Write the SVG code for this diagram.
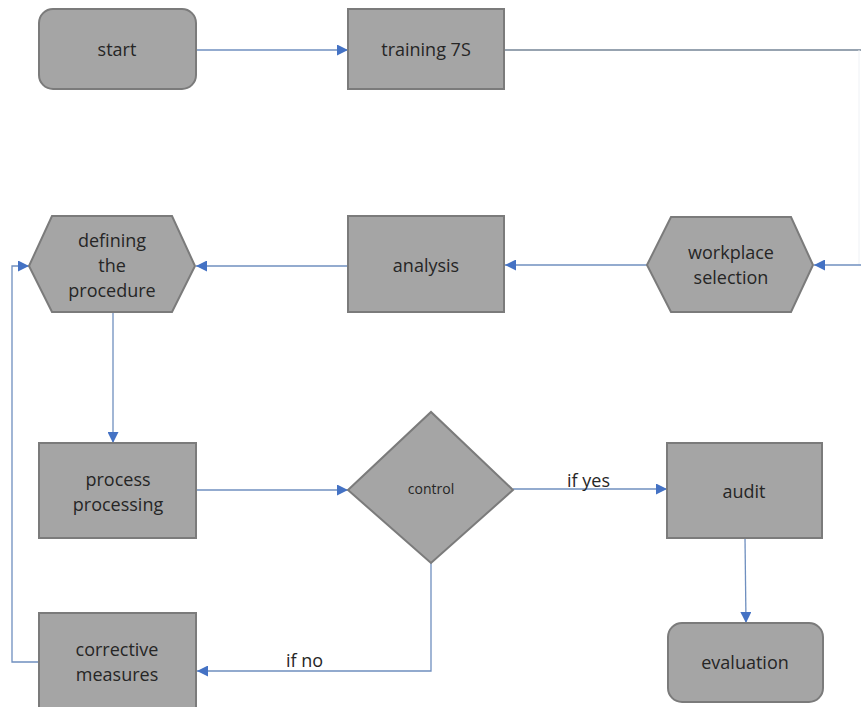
<svg xmlns="http://www.w3.org/2000/svg" width="861" height="707" viewBox="0 0 861 707">
<style>
.n{fill:#a5a5a5;stroke:#7b7b7b;stroke-width:2}
.t{font-family:"Open Sans","Liberation Sans",sans-serif;font-size:18px;fill:#262626;text-anchor:middle}
.c{fill:none;stroke:#6f8fbf;stroke-width:1.3}
.l{font-family:"Open Sans","Liberation Sans",sans-serif;font-size:18px;fill:#262626}
</style>
<defs>
<marker id="a" viewBox="0 0 10 10" refX="10" refY="5" markerWidth="11" markerHeight="11" markerUnits="userSpaceOnUse" orient="auto">
<path d="M0,0L10,5L0,10z" fill="#4472c4"/>
</marker>
</defs>
<rect width="861" height="707" fill="#fff"/>
<g id="connectors">
<path class="c" d="M196,50H348" marker-end="url(#a)"/>
<path d="M504,50H861" fill="none" stroke="#97a3b0" stroke-width="2"/>
<path d="M859,50V265" fill="none" stroke="#eef1f5" stroke-width="1"/>
<path class="c" d="M861,265H814" marker-end="url(#a)"/>
<path class="c" d="M647,265H505" marker-end="url(#a)"/>
<path class="c" d="M348,266H196" marker-end="url(#a)"/>
<path class="c" d="M113,312V443" marker-end="url(#a)"/>
<path class="c" d="M196,490H348" marker-end="url(#a)"/>
<path class="c" d="M513,489H667" marker-end="url(#a)"/>
<path class="c" d="M745,538L746,623" marker-end="url(#a)"/>
<path class="c" d="M431,563V671H197" marker-end="url(#a)"/>
<path class="c" d="M39,662H12V266H29" marker-end="url(#a)"/>
<text class="l" x="567" y="487">if yes</text>
<text class="l" x="286" y="667">if no</text>
</g>
<g id="start"><rect class="n" x="39" y="9" width="157" height="80" rx="14"/><text class="t" x="117" y="56">start</text></g>
<g id="training"><rect class="n" x="348" y="9" width="156" height="80"/><text class="t" x="426" y="56">training 7S</text></g>
<g id="workplace"><polygon class="n" points="647,265 671,217 791,217 813,265 791,312 671,312"/><text class="t" x="731" y="259">workplace</text><text class="t" x="731" y="284">selection</text></g>
<g id="analysis"><rect class="n" x="348" y="216" width="156" height="96"/><text class="t" x="426" y="272">analysis</text></g>
<g id="defining"><polygon class="n" points="29,266 52,216 172,216 195,266 172,312 52,312"/><text class="t" x="112" y="247">defining</text><text class="t" x="112" y="272">the</text><text class="t" x="112" y="297">procedure</text></g>
<g id="process"><rect class="n" x="39" y="443" width="157" height="95"/><text class="t" x="118" y="486">process</text><text class="t" x="118" y="511">processing</text></g>
<g id="control"><polygon class="n" points="348,490 431,412 513,490 431,563"/><text class="t" x="431" y="494" style="font-size:14px">control</text></g>
<g id="audit"><rect class="n" x="667" y="443" width="155" height="95"/><text class="t" x="744" y="498">audit</text></g>
<g id="evaluation"><rect class="n" x="668" y="623" width="155" height="79" rx="14"/><text class="t" x="745" y="669">evaluation</text></g>
<g id="corrective"><rect class="n" x="39" y="613" width="157" height="100"/><text class="t" x="117" y="656">corrective</text><text class="t" x="117" y="681">measures</text></g>
</svg>
